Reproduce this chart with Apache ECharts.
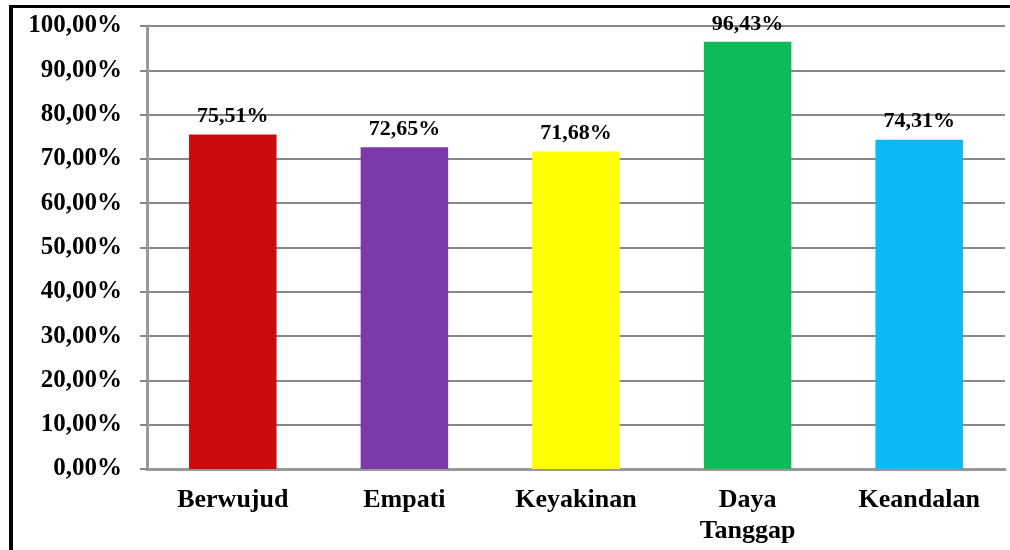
<!DOCTYPE html>
<html><head><meta charset="utf-8">
<script src="https://cdn.jsdelivr.net/npm/echarts@6/dist/echarts.min.js"></script>
<style>html,body{margin:0;padding:0;background:#fff}#c{width:1010px;height:550px}</style>
</head><body><div id="c"></div>
<script>
var categories = ['Berwujud', 'Empati', 'Keyakinan', 'Daya\nTanggap', 'Keandalan'];
var values = [75.51, 72.65, 71.68, 96.43, 74.31];
var colors = ['#CC0C0C', '#7B3AA8', '#FFFF00', '#0DBB58', '#0DB9F5'];
var yMin = 0, yMax = 100, yStep = 10;

function pct(v) { return v.toFixed(2).replace('.', ',') + '%'; }

var chart = echarts.init(document.getElementById('c'));
chart.setOption({
  backgroundColor: '#fff',
  animation: false,
  graphic: [
    { type: 'rect', shape: { x: 9, y: 5, width: 4, height: 560 }, style: { fill: '#000' } },
    { type: 'rect', shape: { x: 9, y: 5, width: 1010, height: 3 }, style: { fill: '#000' } }
  ],
  grid: { left: 147, right: 5, top: 26, bottom: 81 },
  xAxis: {
    type: 'category',
    data: categories,
    axisLine: { lineStyle: { color: '#999', width: 3 } },
    axisTick: { show: false },
    axisLabel: {
      color: '#000', fontFamily: 'Liberation Serif', fontWeight: 'bold', fontSize: 26,
      margin: 16, lineHeight: 31
    }
  },
  yAxis: {
    type: 'value',
    min: yMin, max: yMax, interval: yStep,
    axisLine: { show: true, lineStyle: { color: '#999', width: 3 } },
    axisTick: { show: true, length: 7, lineStyle: { color: '#888', width: 2 } },
    splitLine: { lineStyle: { color: '#888', width: 2 } },
    axisLabel: {
      color: '#000', fontFamily: 'Liberation Serif', fontWeight: 'bold', fontSize: 25,
      margin: 25, formatter: pct
    }
  },
  series: [{
    type: 'bar',
    barWidth: '51%',
    data: values.map(function (v, i) { return { value: v, itemStyle: { color: colors[i] } }; }),
    label: {
      show: true, position: 'top', distance: 7,
      color: '#000', fontFamily: 'Liberation Serif', fontWeight: 'bold', fontSize: 22,
      formatter: function (p) { return pct(p.value); }
    }
  }]
});
</script></body></html>
